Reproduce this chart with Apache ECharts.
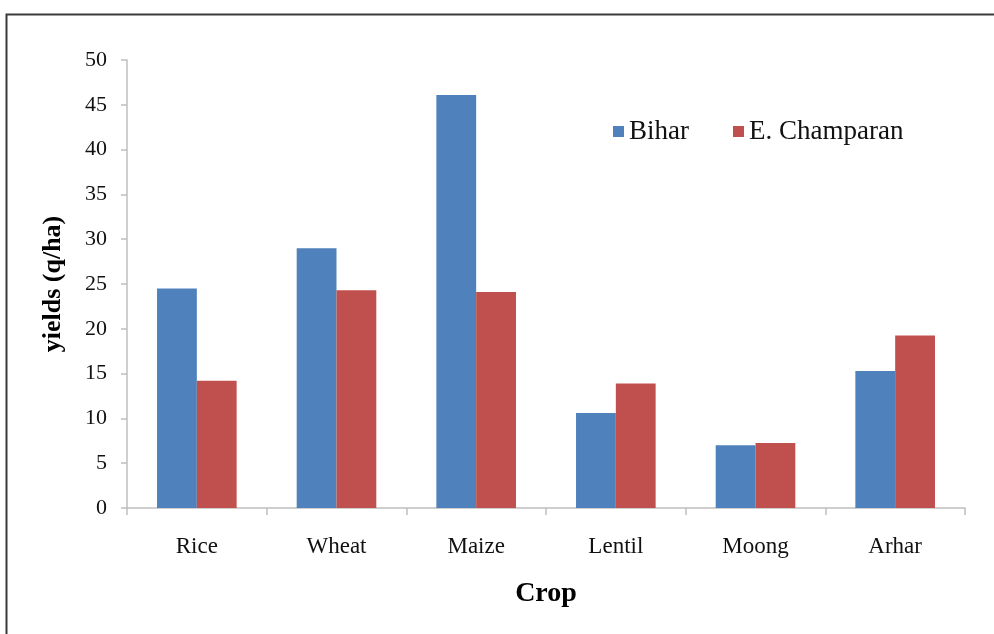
<!DOCTYPE html>
<html>
<head>
<meta charset="utf-8">
<script src="https://cdn.jsdelivr.net/npm/echarts@6/dist/echarts.min.js"></script>
<style>
html,body{margin:0;padding:0;background:#fff;}
#chart{width:994px;height:634px;}
</style>
</head>
<body>
<div id="chart"></div>
<script>
const categories = ['Rice', 'Wheat', 'Maize', 'Lentil', 'Moong', 'Arhar'];
const biharValues = [24.5, 29.0, 46.1, 10.6, 7.0, 15.3];
const champaranValues = [14.2, 24.3, 24.1, 13.9, 7.25, 19.25];
const seriesNames = ['Bihar', 'E. Champaran'];

const font = '"Liberation Serif", "Times New Roman", serif';
const chart = echarts.init(document.getElementById('chart'));
chart.setOption({
  animation: false,
  graphic: [{
    type: 'rect',
    left: 4, top: 12,
    shape: { width: 1100, height: 800 },
    style: { fill: 'none', stroke: '#3a3a3a', lineWidth: 2 },
    z: 0
  }],
  legend: {
    data: seriesNames,
    left: 608, top: 113,
    itemWidth: 11, itemHeight: 11,
    itemGap: 44,
    icon: 'rect',
    textStyle: { fontFamily: font, fontSize: 27, color: '#111' }
  },
  grid: { left: 127, right: 29, top: 60, bottom: 126 },
  xAxis: {
    type: 'category',
    data: categories,
    name: 'Crop',
    nameLocation: 'middle',
    nameGap: 72,
    nameTextStyle: { fontFamily: font, fontSize: 28, fontWeight: 'bold', color: '#000' },
    axisLine: { lineStyle: { color: '#bfbfbf', width: 1.5 } },
    axisTick: { show: true, length: 7, lineStyle: { color: '#bfbfbf', width: 1.5 } },
    axisLabel: { fontFamily: font, fontSize: 23, color: '#111', margin: 27 }
  },
  yAxis: {
    type: 'value',
    min: 0, max: 50, interval: 5,
    name: 'yields (q/ha)',
    nameLocation: 'middle',
    nameGap: 61,
    nameTextStyle: { fontFamily: font, fontSize: 26, fontWeight: 'bold', color: '#000' },
    axisLine: { show: true, lineStyle: { color: '#bfbfbf', width: 1.5 } },
    axisTick: { show: true, length: 6, lineStyle: { color: '#bfbfbf', width: 1.5 } },
    splitLine: { show: false },
    axisLabel: { fontFamily: font, fontSize: 22, color: '#111', margin: 20 }
  },
  series: [
    { name: seriesNames[0], type: 'bar', data: biharValues, barGap: '0%', barCategoryGap: '43%',
      itemStyle: { color: '#4f81bd' } },
    { name: seriesNames[1], type: 'bar', data: champaranValues,
      itemStyle: { color: '#c0504d' } }
  ]
});
</script>
</body>
</html>
